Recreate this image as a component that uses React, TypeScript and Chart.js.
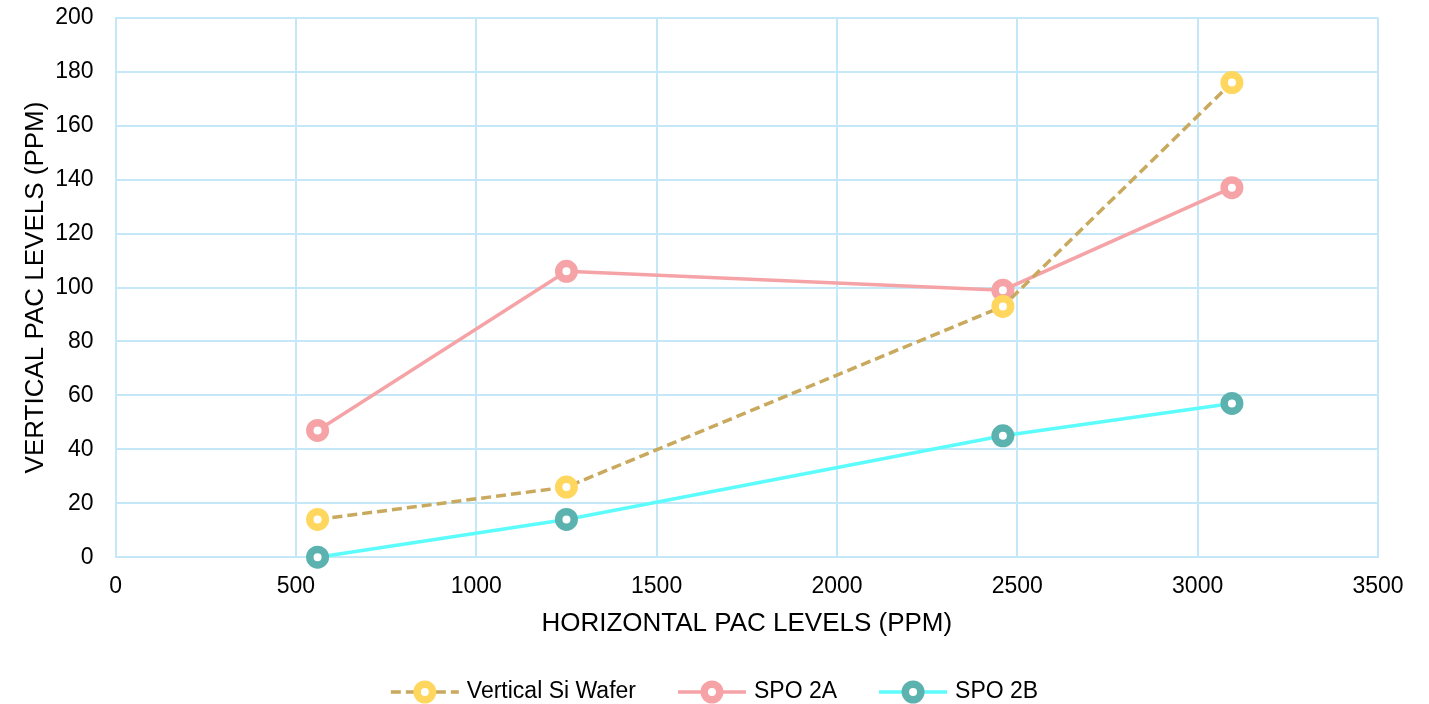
import React, { useEffect, useRef } from "react";
import { Chart, registerables } from "chart.js";

Chart.register(...registerables);

const xValues = [560, 1250, 2460, 3095];
const verticalSiWafer = [14, 26, 93, 176];
const spo2A = [47, 106, 99, 137];
const spo2B = [0, 14, 45, 57];

const seriesNames = ["Vertical Si Wafer", "SPO 2A", "SPO 2B"];
const lineColors = ["#C8A95E", "#F5A3A6", "#5CFCFC"];
const markerColors = ["#FFD75E", "#F5A3A6", "#5CB2AF"];
const dashes: number[][] = [[10, 5], [], []];

const FONT = "'Liberation Sans', Arial, sans-serif";

const legendPlugin = {
  id: "customLegend",
  afterDraw(chart: any) {
    const ctx = chart.ctx as CanvasRenderingContext2D;
    const segW = 68;
    const gap = 8;
    const spacing = 42;
    ctx.save();
    ctx.font = `23px ${FONT}`;
    const widths = seriesNames.map((n) => ctx.measureText(n).width);
    const total =
      widths.reduce((a, w) => a + segW + gap + w, 0) + spacing * (seriesNames.length - 1);
    let x = chart.width / 2 - total / 2;
    const y = 692;
    seriesNames.forEach((name, i) => {
      ctx.beginPath();
      ctx.strokeStyle = lineColors[i];
      ctx.lineWidth = 3.5;
      ctx.setLineDash(dashes[i]);
      ctx.moveTo(x, y);
      ctx.lineTo(x + segW, y);
      ctx.stroke();
      ctx.setLineDash([]);
      ctx.beginPath();
      ctx.arc(x + segW / 2, y, 7.75, 0, Math.PI * 2);
      ctx.fillStyle = "#ffffff";
      ctx.fill();
      ctx.lineWidth = 7.5;
      ctx.strokeStyle = markerColors[i];
      ctx.stroke();
      ctx.fillStyle = "#000000";
      ctx.textBaseline = "middle";
      ctx.textAlign = "left";
      ctx.fillText(name, x + segW + gap, y);
      x += segW + gap + widths[i] + spacing;
    });
    ctx.restore();
  },
};

export default function App() {
  const canvasRef = useRef<HTMLCanvasElement | null>(null);

  useEffect(() => {
    if (!canvasRef.current) return;
    const seriesData = [verticalSiWafer, spo2A, spo2B];
    const chart = new Chart(canvasRef.current, {
      type: "scatter",
      data: {
        datasets: seriesNames.map((name, i) => ({
          label: name,
          data: xValues.map((x, j) => ({ x, y: seriesData[i][j] })),
          showLine: true,
          borderColor: lineColors[i],
          borderWidth: 3.5,
          borderDash: dashes[i],
          pointRadius: 7.75,
          pointHoverRadius: 7.75,
          pointBorderWidth: 7.5,
          pointHoverBorderWidth: 7.5,
          pointBorderColor: markerColors[i],
          pointBackgroundColor: "#ffffff",
          fill: false,
          tension: 0,
          clip: false,
        })),
      },
      options: {
        animation: false,
        responsive: false,
        maintainAspectRatio: false,
        layout: { padding: { top: 8, right: 51, bottom: 65, left: 20 } },
        plugins: {
          legend: { display: false },
          tooltip: { enabled: false },
        },
        scales: {
          x: {
            type: "linear",
            min: 0,
            max: 3500,
            ticks: {
              stepSize: 500,
              padding: 16,
              color: "#000000",
              font: { family: FONT, size: 23 },
              callback: (v: any) => String(v),
            },
            grid: { color: "#C5E8F8", lineWidth: 2, drawTicks: false },
            border: { color: "#C5E8F8", width: 2 },
            title: {
              display: true,
              text: "HORIZONTAL PAC LEVELS (PPM)",
              color: "#000000",
              font: { family: FONT, size: 26 },
              padding: { top: -9, bottom: 0 },
            },
          },
          y: {
            type: "linear",
            min: 0,
            max: 200,
            ticks: {
              stepSize: 20,
              padding: 4,
              color: "#000000",
              font: { family: FONT, size: 23 },
              callback: (v: any) => String(v),
            },
            grid: {
              color: "#C5E8F8",
              lineWidth: 2,
              drawTicks: true,
              tickLength: 18,
              tickColor: "rgba(0,0,0,0)",
            },
            border: { color: "#C5E8F8", width: 2 },
            title: {
              display: true,
              text: "VERTICAL PAC LEVELS (PPM)",
              color: "#000000",
              font: { family: FONT, size: 26 },
              padding: { top: 0, bottom: 0 },
            },
          },
        },
      },
      plugins: [legendPlugin],
    });
    return () => chart.destroy();
  }, []);

  return (
    <div style={{ position: "fixed", left: 0, top: 0, width: 1429, height: 704, background: "#ffffff" }}>
      <canvas ref={canvasRef} width={1429} height={704} style={{ width: 1429, height: 704 }} />
    </div>
  );
}
